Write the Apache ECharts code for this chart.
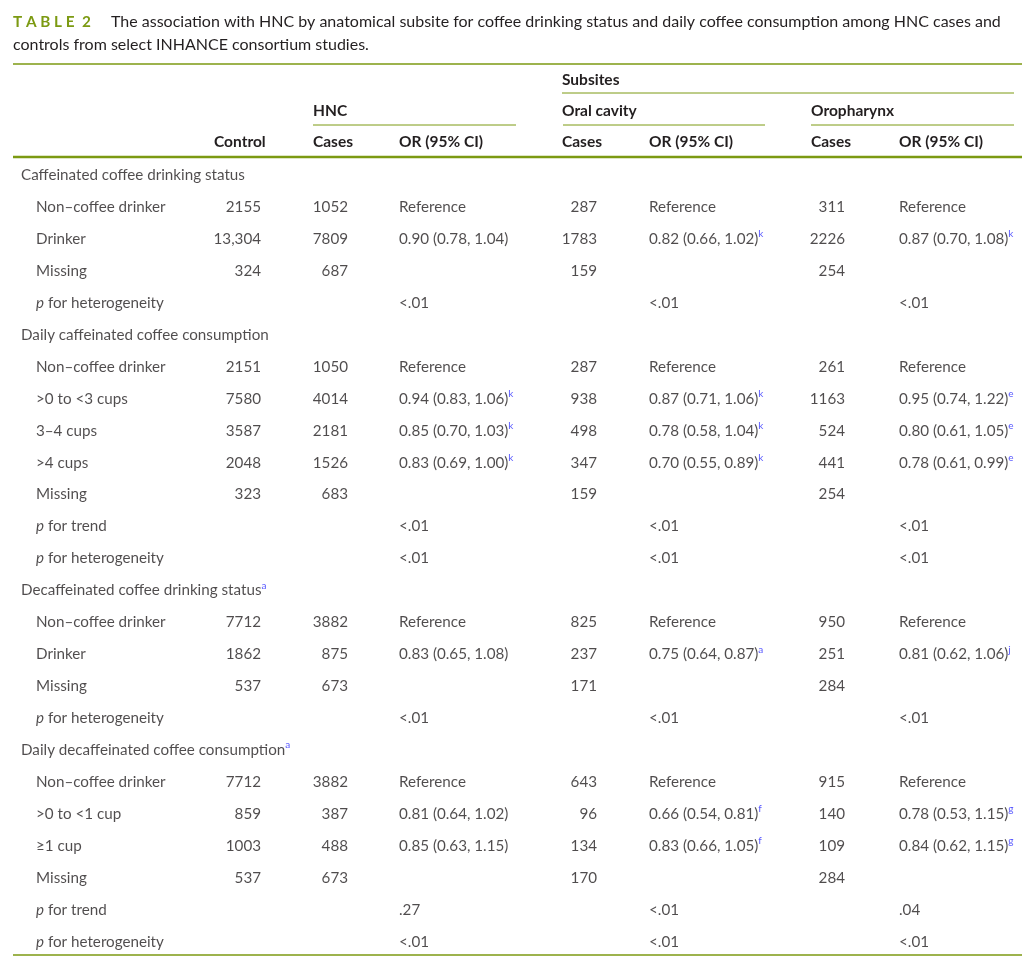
<!DOCTYPE html>
<html><head><meta charset="utf-8">
<script src="https://cdn.jsdelivr.net/npm/echarts@6/dist/echarts.min.js"></script>
<style>html,body{margin:0;padding:0;background:#fff}#c{width:1035px;height:961px}</style>
</head><body><div id="c"></div>
<script>
// ---------- data ----------
const rowLabels = [
  'Caffeinated coffee drinking status','Non–coffee drinker','Drinker','Missing','p for heterogeneity',
  'Daily caffeinated coffee consumption','Non–coffee drinker','>0 to <3 cups','3–4 cups','>4 cups','Missing','p for trend','p for heterogeneity',
  'Decaffeinated coffee drinking status','Non–coffee drinker','Drinker','Missing','p for heterogeneity',
  'Daily decaffeinated coffee consumption','Non–coffee drinker','>0 to <1 cup','≥1 cup','Missing','p for trend','p for heterogeneity'
];
const rowKinds = ['s','i','i','i','p', 's','i','i','i','i','i','p','p', 's','i','i','i','p', 's','i','i','i','i','p','p'];
const rowLabelSup = ['','','','','', '','','','','','','','', 'a','','','','', 'a','','','','','',''];
const control = ['','2155','13,304','324','', '','2151','7580','3587','2048','323','','', '','7712','1862','537','', '','7712','859','1003','537','',''];
const hncCases = ['','1052','7809','687','', '','1050','4014','2181','1526','683','','', '','3882','875','673','', '','3882','387','488','673','',''];
const hncOR = ['','Reference','0.90 (0.78, 1.04)','','<.01', '','Reference','0.94 (0.83, 1.06)','0.85 (0.70, 1.03)','0.83 (0.69, 1.00)','','<.01','<.01',
  '','Reference','0.83 (0.65, 1.08)','','<.01', '','Reference','0.81 (0.64, 1.02)','0.85 (0.63, 1.15)','','.27','<.01'];
const hncSup = ['','','','','', '','','k','k','k','','','', '','','','','', '','','','','','',''];
const oralCases = ['','287','1783','159','', '','287','938','498','347','159','','', '','825','237','171','', '','643','96','134','170','',''];
const oralOR = ['','Reference','0.82 (0.66, 1.02)','','<.01', '','Reference','0.87 (0.71, 1.06)','0.78 (0.58, 1.04)','0.70 (0.55, 0.89)','','<.01','<.01',
  '','Reference','0.75 (0.64, 0.87)','','<.01', '','Reference','0.66 (0.54, 0.81)','0.83 (0.66, 1.05)','','<.01','<.01'];
const oralSup = ['','','k','','', '','','k','k','k','','','', '','','a','','', '','','f','f','','',''];
const oroCases = ['','311','2226','254','', '','261','1163','524','441','254','','', '','950','251','284','', '','915','140','109','284','',''];
const oroOR = ['','Reference','0.87 (0.70, 1.08)','','<.01', '','Reference','0.95 (0.74, 1.22)','0.80 (0.61, 1.05)','0.78 (0.61, 0.99)','','<.01','<.01',
  '','Reference','0.81 (0.62, 1.06)','','<.01', '','Reference','0.78 (0.53, 1.15)','0.84 (0.62, 1.15)','','.04','<.01'];
const oroSup = ['','','k','','', '','','e','e','e','','','', '','','j','','', '','','g','g','','',''];
const titleTag = 'T A B L E  2';
const titleLines = ['The association with HNC by anatomical subsite for coffee drinking status and daily coffee consumption among HNC cases and',
  'controls from select INHANCE consortium studies.'];
const headerGroup = ['Subsites'];
const headerSub = ['HNC','Oral cavity','Oropharynx'];
const headerCols = ['Control','Cases','OR (95% CI)','Cases','OR (95% CI)','Cases','OR (95% CI)'];

// ---------- layout / style ----------
const FONT = 'Lato, "Open Sans", sans-serif';
const INK = '#231f20';
const GREEN = '#7c9a12';
const SUPC = '#2a2aff';
const FS = 15.2;
const HFS = 15.5;
const TFS = 16;
const colX = { section:21, item:36, control:261, hncCases:348, hncOR:399, oralCases:597, oralOR:649, oroCases:845, oroOR:899 };
const headerColX = [214,313,399,562,649,811,899];
const headerSubX = [313,562,811];

const rich = {
  t:{fontFamily:FONT,fontSize:FS,color:INK,lineHeight:20},
  i:{fontFamily:FONT,fontSize:FS,color:INK,lineHeight:20,fontStyle:'italic'},
  s:{fontFamily:FONT,fontSize:10,color:SUPC,lineHeight:11,verticalAlign:'top'}
};
function esc(t){return t.replace(/[{}|]/g,'');}
function fmt(txt,sup,kind){
  if(!txt) return '';
  let s;
  if(kind==='p'){ s='{i|p}{t|'+esc(txt.slice(1))+'}'; }
  else s='{t|'+esc(txt)+'}';
  if(sup) s+='{s|'+sup+'}';
  return s;
}
function colSeries(values,sups,x,alignRight,kinds){
  return {
    type:'scatter', symbolSize:0, silent:true, animation:false,
    data: values.map((v,i)=>({value:[typeof x==='function'?x(i):x,i],txt:v,sup:sups?sups[i]:'',kind:kinds?kinds[i]:''})).filter(d=>d.txt),
    label:{show:true,position:alignRight?'left':'right',distance:0,
      formatter:p=>fmt(p.data.txt,p.data.sup,p.data.kind),rich:rich}
  };
}

const series = [
  colSeries(rowLabels,rowLabelSup,i=>rowKinds[i]==='s'?colX.section:colX.item,false,rowKinds),
  colSeries(control,null,colX.control,true),
  colSeries(hncCases,null,colX.hncCases,true),
  colSeries(hncOR,hncSup,colX.hncOR,false),
  colSeries(oralCases,null,colX.oralCases,true),
  colSeries(oralOR,oralSup,colX.oralOR,false),
  colSeries(oroCases,null,colX.oroCases,true),
  colSeries(oroOR,oroSup,colX.oroOR,false)
];

function hText(x,y,t,bold){return {type:'text',x:x,y:y,style:{text:t,fontFamily:FONT,fontSize:HFS,fontWeight:bold?'bold':'normal',fill:INK,verticalAlign:'middle'},silent:true};}
function rule(x1,x2,y,w){return {type:'line',shape:{x1:x1,y1:y,x2:x2,y2:y},style:{stroke:GREEN,lineWidth:w},silent:true};}

const graphics = [
  {type:'text',x:13,y:22,style:{text:titleTag,fontFamily:FONT,fontSize:15.3,fontWeight:'bold',fill:GREEN,verticalAlign:'middle'},silent:true},
  {type:'text',x:111,y:22,style:{text:titleLines[0],fontFamily:FONT,fontSize:TFS,fill:INK,verticalAlign:'middle'},silent:true},
  {type:'text',x:13,y:45,style:{text:titleLines[1],fontFamily:FONT,fontSize:TFS,fill:INK,verticalAlign:'middle'},silent:true},
  rule(13,1022,64,1.5),
  hText(562,80,headerGroup[0],true),
  rule(562,1014,93,1),
  ...headerSub.map((t,k)=>hText(headerSubX[k],111,t,true)),
  rule(313,516,125,1), rule(563,765,125,1), rule(811,1014,125,1),
  ...headerCols.map((t,k)=>hText(headerColX[k],142,t,true)),
  rule(13,1022,157,2.5),
  rule(13,1022,955,1.5)
];

const chart = echarts.init(document.getElementById('c'),null,{renderer:'canvas'});
chart.setOption({
  animation:false,
  backgroundColor:'#fff',
  grid:{left:0,right:0,top:159,bottom:3},
  xAxis:{type:'value',min:0,max:1035,show:false},
  yAxis:{type:'category',inverse:true,show:false,data:rowLabels.map((_,i)=>String(i))},
  series:series,
  graphic:graphics
});
</script></body></html>
